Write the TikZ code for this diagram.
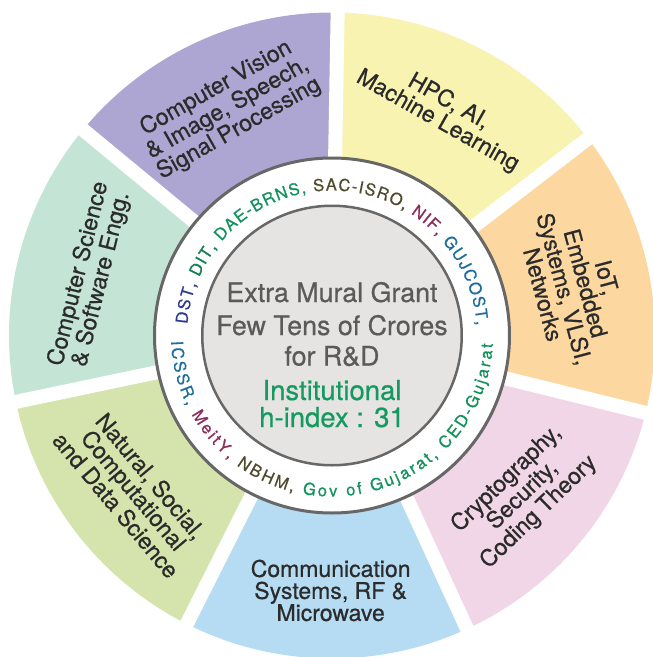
\documentclass[tikz,border=0pt]{standalone}
\usepackage{fontspec}
\setmainfont{TeX Gyre Heros}
\newfontfamily\hv[FakeBold=0.6]{TeX Gyre Heros}
\usetikzlibrary{decorations.text}
\definecolor{cPurple}{HTML}{ADA6D2}
\definecolor{cYellow}{HTML}{F9F3B2}
\definecolor{cOrange}{HTML}{FCD8A0}
\definecolor{cPink}{HTML}{F0D6E6}
\definecolor{cBlue}{HTML}{B6DCF3}
\definecolor{cLGreen}{HTML}{D5E4AC}
\definecolor{cMint}{HTML}{C4E5D6}
\definecolor{cDisk}{HTML}{E6E4E3}
\definecolor{cBorder}{HTML}{676767}
\definecolor{cGrayText}{HTML}{5A5A5A}
\definecolor{cGreenText}{HTML}{149A5E}
\definecolor{cLabel}{HTML}{2B2B2B}
\definecolor{cNavy}{HTML}{2F3A8F}
\definecolor{cDkGreen}{HTML}{0E7F4F}
\definecolor{cGreen}{HTML}{14925E}
\definecolor{cOlive}{HTML}{4F4B2C}
\definecolor{cMaroon}{HTML}{8B2C5C}
\definecolor{cTeal}{HTML}{1B6E9E}
\newcommand{\ringfnt}{\hv\fontsize{16.5}{16.5}\selectfont}
\begin{document}
\begin{tikzpicture}[x=1pt,y=1pt,
  gapline/.style={white, line width=14pt},
  lbl/.style={align=center, text=cLabel, inner sep=0pt,
    font=\hv\fontsize{23}{22}\selectfont},
  centergray/.style={anchor=base, text=cGrayText, inner sep=0pt,
    font=\hv\fontsize{26.8}{26.8}\selectfont},
  centergreen/.style={anchor=base, text=cGreenText, inner sep=0pt,
    font=\hv\fontsize{27.5}{27.5}\selectfont},
  ringcircle/.style={circle, draw=cBorder, line width=3pt, inner sep=0pt}
]
\useasboundingbox (-332,-321.5) rectangle (321,335.5);
\clip (-332,-321.5) rectangle (321,335.5);

% sectors
\fill[cYellow] (0,0) -- (37.571:323) arc[start angle=37.571, end angle=89, radius=323] -- cycle;
\fill[cOrange] (0,0) -- (-13.857:323) arc[start angle=-13.857, end angle=37.571, radius=323] -- cycle;
\fill[cPink] (0,0) -- (-65.286:323) arc[start angle=-65.286, end angle=-13.857, radius=323] -- cycle;
\fill[cBlue] (0,0) -- (-116.714:323) arc[start angle=-116.714, end angle=-65.286, radius=323] -- cycle;
\fill[cLGreen] (0,0) -- (-168.143:323) arc[start angle=-168.143, end angle=-116.714, radius=323] -- cycle;
\fill[cMint] (0,0) -- (140.429:323) arc[start angle=140.429, end angle=191.857, radius=323] -- cycle;
\fill[cPurple] (0,0) -- (89:323) arc[start angle=89, end angle=140.429, radius=323] -- cycle;

% white gaps
\foreach \a in {89,37.571,-13.857,-65.286,-116.714,-168.143,140.429}
  \draw[gapline] (0,0) -- (\a:340);

% ring and disk
\node[ringcircle, fill=white, minimum size=355pt] (ring) at (0,0) {};
\node[ringcircle, fill=cDisk, line width=2.5pt, minimum size=259.5pt] (disk) at (0,0) {};

% ring texts
\path[decorate, decoration={text along path, text align=fit to path,
  text={|\ringfnt\color{cNavy}|DST, |\ringfnt\color{cDkGreen}|DIT, |\ringfnt\color{cGreen}|DAE-BRNS, |\ringfnt\color{cOlive}|SAC-ISRO, |\ringfnt\color{cMaroon}|NIF, |\ringfnt\color{cTeal}|GUJCOST,}}]
  (175.5:145) arc[start angle=175.5, end angle=4, radius=145];
\path[decorate, decoration={text along path, text align=fit to path,
  text={|\ringfnt\color{cTeal}|ICSSR, |\ringfnt\color{cMaroon}|MeitY, |\ringfnt\color{cOlive}|NBHM, |\ringfnt\color{cGreen}|Gov of Gujarat, CED-Gujarat}}]
  (182:161) arc[start angle=182, end angle=357, radius=161];

% center text
\node[centergray] (t1) at (0,33.5) {Extra Mural Grant};
\node[centergray] (t2) at (0,0.5) {Few Tens of Crores};
\node[centergray] (t3) at (0,-30) {for R\&D};
\node[centergreen] (t4) at (0,-64.5) {Institutional};
\node[centergreen] (t5) at (0,-91.5) {h-index : 31};

% sector labels
\node[lbl, rotate=29.5] (cv) at (114.7:250) {Computer Vision\\\& Image, Speech,\\Signal Processing};
\node[lbl, rotate=-29.5] (hpc) at (63.6:250) {HPC, AI,\\Machine Learning};
\node[lbl, rotate=-75] (iot) at (11.5:248) {IoT,\\Embedded\\Systems, VLSI,\\Networks};
\node[lbl, rotate=44] (cry) at (-40:249) {Cryptography,\\Security,\\Coding Theory};
\node[lbl] (com) at (-90.3:255) {Communication\\Systems, RF \&\\Microwave};
\node[lbl, rotate=-50] (nat) at (-142:252) {Natural, Social,\\Computational\\and Data Science};
\node[lbl, rotate=76] (cs) at (166.3:249) {Computer Science\\\& Software Engg.};
\end{tikzpicture}
\end{document}
